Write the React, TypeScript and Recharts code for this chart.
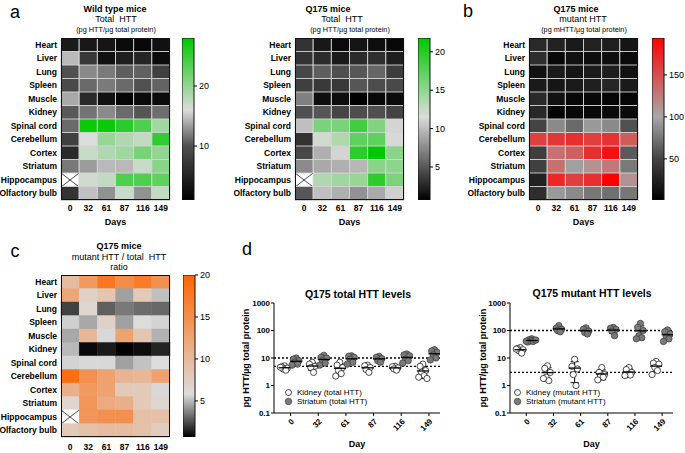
import React from 'react';
import {
  BarChart, Bar, XAxis, YAxis,
  ScatterChart, Scatter, ReferenceLine, ErrorBar, Legend,
} from 'recharts';

const FONT = '"Liberation Sans", Arial, Helvetica, sans-serif';

const tissues = [
  'Heart', 'Liver', 'Lung', 'Spleen', 'Muscle', 'Kidney', 'Spinal cord',
  'Cerebellum', 'Cortex', 'Striatum', 'Hippocampus', 'Olfactory bulb',
];
const days = ['0', '32', '61', '87', '116', '149'];

type Row = (number | null)[];

// a, wild type: total HTT (pg HTT/µg total protein)
const wtTotal: Row[] = [
  [3.9, 3.7, 3.4, 2.1, 1.9, 2.9],
  [14.5, 7.3, 2.9, 4.4, 5.2, 2.1],
  [10, 12.5, 11.8, 10.6, 10.7, 8.2],
  [9.3, 11.1, 11.8, 11.1, 10, 10.8],
  [13.8, 5.7, 2.9, 1.6, 2.1, 2.1],
  [10.4, 11.5, 12.5, 11.1, 10.2, 11.3],
  [11.1, 27.5, 27.5, 25.7, 23.7, 19.3],
  [8.2, 16, 19.7, 18.4, 17.5, 25.4],
  [5.7, 17.1, 18.4, 19.3, 21.5, 20.1],
  [11.7, 13.2, 14.5, 14.5, 17.1, 20.6],
  [null, 16.7, 17.5, 23.7, 23.7, 22.8],
  [6.7, 14.8, 12.8, 17.1, 12.8, 17.5],
];

// a, Q175: total HTT
const q175Total: Row[] = [
  [3.2, 1.9, 1.2, 1.7, 1.4, 1.1],
  [3.2, 2.8, 2.0, 2.8, 3.0, 2.2],
  [4.2, 5.3, 4.6, 4.9, 5.7, 3.7],
  [3.8, 3.5, 3.5, 4.9, 4.5, 4.3],
  [7.0, 1.4, 1.4, 0.7, 1.1, 1.2],
  [4.6, 4.9, 4.1, 4.5, 4.6, 4.0],
  [10.1, 16.1, 16.1, 18.8, 15.8, 11.1],
  [3.2, 12.1, 13.6, 17.3, 17.4, 11.3],
  [4.2, 9.3, 11.1, 19.8, 21.8, 15.4],
  [7.5, 9.0, 9.3, 9.7, 15.4, 15.2],
  [null, 13.6, 14.3, 14.7, 19.8, 16.0],
  [4.9, 10.1, 9.3, 7.8, 9.0, 10.9],
];

// b, Q175: mutant HTT (pg mHTT/µg total protein)
const q175Mutant: Row[] = [
  [31, 25.5, 19.7, 25.5, 22.6, 16.1],
  [34, 6.8, 13.3, 11.1, 11.1, 8.2],
  [13.3, 19.7, 16.1, 19.7, 22.6, 13.3],
  [19.7, 16.1, 19.7, 22.6, 27.7, 19.7],
  [31, 13.3, 6.8, 6.8, 4.6, 4.6],
  [29.8, 4.6, 6.8, 6.8, 8.2, 8.2],
  [50, 85, 69, 92.5, 85, 56],
  [158, 163, 167, 160, 166, 143],
  [45.7, 131, 140, 167, 185, 61],
  [47, 131, 96, 113, 127, 77],
  [25.5, 172, 158, 167, 194, 113],
  [34, 92.5, 85, 75.5, 72, 75.5],
];

// c, Q175: mutant HTT / total HTT ratio
const q175Ratio: Row[] = [
  [9.7, 13.8, 17.9, 15.3, 17.4, 14.9],
  [12.2, 7.1, 8.6, 4.4, 8.1, 5.15],
  [2.2, 6.6, 2.9, 3.5, 3.2, 3.1],
  [5.5, 4.6, 7.1, 4.4, 5.8, 5.6],
  [4.6, 10.2, 5.7, 12.8, 8.6, 4.8],
  [5.0, 0.9, 1.3, 0.7, 1.0, 1.5],
  [5.6, 5.7, 5.7, 4.4, 5.2, 5.8],
  [19, 14.9, 12.8, 10.7, 10.2, 12.8],
  [11.2, 13.8, 12.8, 8.1, 8.1, 5.7],
  [6.6, 14.3, 11.8, 11.2, 8.1, 6.6],
  [null, 14.3, 14.9, 14.9, 9.2, 9.2],
  [8.1, 9.2, 9.7, 9.7, 9.2, 7.6],
];

// d, individual animals per day (pg HTT/µg total protein)
const kidneyTotal = [
  [5.2, 4.8, 4.3, 4.0, 3.6, 4.6],
  [7, 6, 5, 4.5, 3],
  [7, 5.5, 4.5, 3.5, 2.7, 2.2],
  [5.5, 5.2, 4.5, 3.8, 3],
  [5, 4.8, 4.4, 4, 3.6],
  [6, 5, 3.5, 3, 2.3, 2, 1.8],
];
const striatumTotal = [
  [10, 9, 8, 7, 6, 5.5],
  [12.5, 10.5, 10, 8, 6.5, 5.5],
  [12, 11.5, 10.5, 9, 7, 6],
  [11.5, 10.5, 9.5, 8, 7],
  [14, 13, 12, 9, 8, 6.5],
  [20, 18, 16, 13, 10, 8.5],
];
const kidneyMutant = [
  [24, 22, 20, 18, 15, 21],
  [5.2, 4.2, 3, 2, 1.5, 1.8],
  [9, 5, 4, 2.5, 1],
  [4.5, 3, 2.5, 2.2, 2, 1.6],
  [4.5, 3.8, 3, 2.5, 2.4, 2.3],
  [7.5, 6.5, 6, 4.5, 3.5, 2.5],
];
const striatumMutant = [
  [50, 46, 44, 42, 40, 38, 45, 41],
  [150, 120, 110, 100, 90],
  [125, 110, 95, 85, 75],
  [130, 120, 110, 95, 65],
  [180, 130, 100, 65, 55, 50],
  [105, 90, 75, 60, 50, 40],
];

type Stop = [number, string];
const hex = (c: string) => [1, 3, 5].map((i) => parseInt(c.slice(i, i + 2), 16));
function colorAt(stops: Stop[], v: number) {
  if (v <= stops[0][0]) return stops[0][1];
  for (let i = 1; i < stops.length; i++) {
    const [v1, c1] = stops[i];
    if (v <= v1) {
      const [v0, c0] = stops[i - 1];
      const t = (v - v0) / (v1 - v0);
      const a = hex(c0);
      const b = hex(c1);
      return `rgb(${a.map((x, k) => Math.round(x + (b[k] - x) * t)).join(',')})`;
    }
  }
  return stops[stops.length - 1][1];
}

const greenWT: Stop[] = [[1, '#000000'], [10, '#505050'], [16, '#dcdcdc'], [28, '#00c800']];
const greenQ: Stop[] = [[0.7, '#000000'], [11.5, '#dcdcdc'], [21.8, '#00c800']];
const redQ: Stop[] = [[1, '#000000'], [50, '#444444'], [100, '#a8a8a8'], [194, '#ff0000']];
const orangeQ: Stop[] = [[0.7, '#000000'], [5.8, '#dcdcdc'], [20, '#ff6600']];

const GRID_W = 109;
const GRID_H = 162;
const LABEL_W = 61;

const rowLabel = (p: any) => (
  <text x={p.x} y={p.y} textAnchor="end" dominantBaseline="central"
    fontSize={8.5} fontWeight="bold" fill="#000">{p.payload.value}</text>
);

function Heatmap({ left, top, values, stops, grid, showDays, tickGap }: any) {
  const data = tissues.map((t, r) => {
    const row: any = { tissue: t };
    days.forEach((_, c) => {
      row['u' + c] = 1;
      row['v' + c] = values[r][c];
    });
    return row;
  });
  const cellShape = (c: number) => (p: any) => {
    const { x, y, width, height, payload } = p;
    const v = payload['v' + c];
    if (v == null) {
      return (
        <g>
          <rect x={x} y={y} width={width} height={height} fill="#fff" stroke={grid ? '#d4d4d4' : '#fff'} strokeWidth={0.9} />
          <line x1={x} y1={y} x2={x + width} y2={y + height} stroke="#222" strokeWidth={0.8} />
          <line x1={x} y1={y + height} x2={x + width} y2={y} stroke="#222" strokeWidth={0.8} />
        </g>
      );
    }
    const fill = colorAt(stops, v);
    return (
      <rect x={x} y={y} width={width} height={height} fill={fill}
        stroke={grid ? '#d4d4d4' : fill} strokeWidth={grid ? 0.9 : 0.4} />
    );
  };
  return (
    <div style={{ position: 'absolute', left: left - LABEL_W, top }}>
      <BarChart width={LABEL_W + GRID_W + 2} height={GRID_H + 26} data={data} layout="vertical"
        margin={{ top: 0, right: 2, bottom: 0, left: 0 }} barCategoryGap={0} barGap={0}>
        <XAxis type="number" domain={[0, 6]} ticks={[0.5, 1.5, 2.5, 3.5, 4.5, 5.5]}
          tickFormatter={(v: number) => days[Math.floor(v)]} interval={0}
          axisLine={false} tickLine={false} tickSize={0} tickMargin={tickGap} height={26}
          tick={{ fontSize: 8.5, fontWeight: 'bold', fill: '#000' }}
          label={showDays ? { value: 'Days', position: 'insideBottom', offset: 1, fontSize: 9, fontWeight: 'bold', fill: '#000' } : undefined} />
        <YAxis type="category" dataKey="tissue" width={LABEL_W} interval={0}
          axisLine={false} tickLine={false} tickSize={0} tickMargin={4} tick={rowLabel} />
        {days.map((_, c) => (
          <Bar key={c} dataKey={'u' + c} stackId="s" isAnimationActive={false} shape={cellShape(c)} />
        ))}
      </BarChart>
      <div style={{
        position: 'absolute', left: LABEL_W, top: 0, width: GRID_W, height: GRID_H,
        border: '1px solid #111', boxSizing: 'border-box', pointerEvents: 'none',
      }} />
    </div>
  );
}

function ColorBar({ id, left, top, stops, ticks }: any) {
  const min = stops[0][0];
  const max = stops[stops.length - 1][0];
  return (
    <div style={{ position: 'absolute', left, top: top - 5 }}>
      <BarChart width={12 + 28} height={GRID_H + 10} data={[{ k: 'bar', range: [min, max] }]}
        margin={{ top: 5, right: 0, bottom: 5, left: 0 }} barCategoryGap={0}>
        <defs>
          <linearGradient id={id} x1="0" y1="0" x2="0" y2="1">
            {[...stops].reverse().map(([v, c]: Stop) => (
              <stop key={v} offset={(max - v) / (max - min)} stopColor={c} />
            ))}
          </linearGradient>
        </defs>
        <XAxis type="category" dataKey="k" hide />
        <YAxis type="number" orientation="right" domain={[min, max]} ticks={ticks} width={28}
          allowDataOverflow axisLine={false} tickSize={3} tickMargin={2} stroke="#000" interval={0}
          tick={{ fontSize: 9, fill: '#000' }} />
        <Bar dataKey="range" fill={`url(#${id})`} stroke="#111" strokeWidth={1} isAnimationActive={false} />
      </BarChart>
    </div>
  );
}

const spread = [0, -0.1, 0.1, -0.05, 0.05, -0.15, 0.15, -0.2];
const toPoints = (groups: number[][], shift: number) =>
  groups.flatMap((g, i) => g.map((y, j) => ({ x: i + shift + spread[j % spread.length], y })));
const toMeans = (groups: number[][], shift: number) =>
  groups.map((g, i) => {
    const m = g.reduce((a, b) => a + b, 0) / g.length;
    const sd = Math.sqrt(g.reduce((a, b) => a + (b - m) ** 2, 0) / (g.length - 1));
    return { x: i + shift, y: m, err: [Math.min(sd, m - 0.12), sd] };
  });

const openDot = (p: any) => <circle cx={p.cx} cy={p.cy} r={3.1} fill="#fff" stroke="#000" strokeWidth={0.7} />;
const grayDot = (p: any) => <circle cx={p.cx} cy={p.cy} r={3.2} fill="#7a7a7a" stroke="#3a3a3a" strokeWidth={0.7} />;
const meanMark = (p: any) => <line x1={p.cx - 6} x2={p.cx + 6} y1={p.cy} y2={p.cy} stroke="#000" strokeWidth={1.3} />;

function DotPlot({ left, axisW, plotW, kidney, striatum, kName, sName, refs, legendLeft }: any) {
  return (
    <div style={{ position: 'absolute', left, top: 298 }}>
      <ScatterChart width={axisW + plotW + 6} height={154} margin={{ top: 5, right: 6, bottom: 0, left: 0 }}>
        <XAxis type="number" dataKey="x" domain={[-0.6, 5.4]} ticks={[0, 1, 2, 3, 4, 5]} allowDataOverflow
          tickFormatter={(v: number) => days[v]} interval={0} height={39} stroke="#000" tickSize={3} tickMargin={2}
          tick={{ angle: -45, textAnchor: 'end', fontSize: 8, fontWeight: 'bold', fill: '#000' }}
          label={{ value: 'Day', position: 'insideBottom', offset: 5, fontSize: 9, fontWeight: 'bold', fill: '#000' }} />
        <YAxis type="number" dataKey="y" scale="log" domain={[0.1, 1000]} ticks={[0.1, 1, 10, 100, 1000]}
          allowDataOverflow interval={0} width={axisW} stroke="#000" tickSize={3} tickMargin={1}
          tickFormatter={(v: number) => String(v)}
          tick={{ fontSize: 8, fontWeight: 'bold', fill: '#000' }}
          label={{ value: 'pg HTT/µg total protein', angle: -90, position: 'center', fontSize: 9, fontWeight: 'bold', fill: '#000' }} />
        {refs.map((r: number) => (
          <ReferenceLine key={r} y={r} stroke="#000" strokeDasharray="2 2" strokeWidth={1.3} />
        ))}
        <Scatter name={kName} data={toPoints(kidney, -0.22)} shape={openDot} isAnimationActive={false} />
        <Scatter name={sName} data={toPoints(striatum, 0.2)} shape={grayDot} isAnimationActive={false} />
        <Scatter data={toMeans(kidney, -0.22)} shape={meanMark} legendType="none" isAnimationActive={false}>
          <ErrorBar dataKey="err" direction="y" width={4} stroke="#000" strokeWidth={1} isAnimationActive={false} />
        </Scatter>
        <Scatter data={toMeans(striatum, 0.2)} shape={meanMark} legendType="none" isAnimationActive={false}>
          <ErrorBar dataKey="err" direction="y" width={4} stroke="#000" strokeWidth={1} isAnimationActive={false} />
        </Scatter>
        <Legend layout="vertical" align="center" verticalAlign="middle"
          wrapperStyle={{ left: legendLeft, top: 90, width: 'auto', height: 'auto' }}
          content={() => (
            <div style={{ fontSize: 8, lineHeight: '9px', color: '#000', whiteSpace: 'nowrap' }}>
              {[kName, sName].map((n, i) => (
                <div key={n} style={{ display: 'flex', alignItems: 'center' }}>
                  <svg width={10} height={9} style={{ marginRight: 3 }}>
                    {i === 0
                      ? <circle cx={4.5} cy={4.5} r={3} fill="#fff" stroke="#000" strokeWidth={0.7} />
                      : <circle cx={4.5} cy={4.5} r={3.2} fill="#7a7a7a" stroke="#3a3a3a" strokeWidth={0.7} />}
                  </svg>
                  {n}
                </div>
              ))}
            </div>
          )} />
      </ScatterChart>
    </div>
  );
}

function T({ x, y, size, bold, children }: any) {
  return (
    <div style={{
      position: 'absolute', left: x, top: y, transform: 'translate(-50%, -50%)',
      fontSize: size, fontWeight: bold ? 'bold' : 'normal', lineHeight: 1, whiteSpace: 'pre', color: '#000',
    }}>{children}</div>
  );
}

export default function App() {
  return (
    <div style={{ position: 'relative', width: 685, height: 453, fontFamily: FONT, background: '#fff', overflow: 'hidden' }}>
      <style>{'body{margin:0}'}</style>

      <T x={15} y={12} size={18}>a</T>
      <T x={468} y={11} size={18}>b</T>
      <T x={15} y={251} size={18}>c</T>
      <T x={247} y={249} size={18}>d</T>

      <T x={115} y={9} size={9} bold>Wild type mice</T>
      <T x={116} y={18.5} size={9}>Total  HTT</T>
      <T x={116} y={30} size={7.3}>(pg HTT/µg total protein)</T>

      <T x={328} y={9} size={9} bold>Q175 mice</T>
      <T x={342} y={18.5} size={9}>Total  HTT</T>
      <T x={350} y={30} size={7.3}>(pg HTT/µg total protein)</T>

      <T x={576} y={9} size={9} bold>Q175 mice</T>
      <T x={583} y={18.5} size={9}>mutant HTT</T>
      <T x={584} y={30} size={7.3}>(pg mHTT/µg total protein)</T>

      <T x={119} y={246} size={9} bold>Q175 mice</T>
      <T x={119} y={256.5} size={9}>mutant HTT / total  HTT</T>
      <T x={119} y={266.5} size={9}>ratio</T>

      <T x={358} y={293.5} size={10.5} bold>Q175 total HTT levels</T>
      <T x={592} y={293} size={10.5} bold>Q175 mutant HTT levels</T>

      <Heatmap left={61} top={38} values={wtTotal} stops={greenWT} grid showDays tickGap={5} />
      <ColorBar id="gWT" left={182} top={38} stops={greenWT} ticks={[10, 20]} />

      <Heatmap left={295} top={38} values={q175Total} stops={greenQ} grid showDays tickGap={5} />
      <ColorBar id="gQ" left={418} top={38} stops={greenQ} ticks={[5, 10, 15, 20]} />

      <Heatmap left={529} top={38} values={q175Mutant} stops={redQ} grid showDays tickGap={5} />
      <ColorBar id="rQ" left={652} top={38} stops={redQ} ticks={[50, 100, 150]} />

      <Heatmap left={61} top={275} values={q175Ratio} stops={orangeQ} grid={false} showDays={false} tickGap={7} />
      <ColorBar id="oQ" left={183} top={275} stops={orangeQ} ticks={[5, 10, 15, 20]} />

      <DotPlot left={218} axisW={56} plotW={166} kidney={kidneyTotal} striatum={striatumTotal}
        kName="Kidney (total HTT)" sName="Striatum (total HTT)" refs={[10, 5]} legendLeft={66} />
      <DotPlot left={456} axisW={54} plotW={163} kidney={kidneyMutant} striatum={striatumMutant}
        kName="Kidney (mutant HTT)" sName="Striatum (mutant HTT)" refs={[100, 3]} legendLeft={57} />
    </div>
  );
}
